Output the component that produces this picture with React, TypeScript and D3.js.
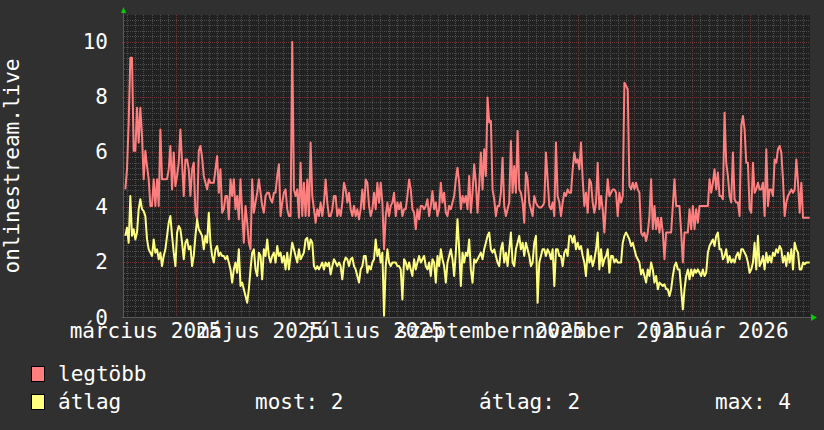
import React from "react";
import * as d3 from "d3";

// ---- data ----
const yTicks = [0, 2, 4, 6, 8, 10];
const monthLabels = [
  { year: 2025, month: 2, text: "március 2025" },
  { year: 2025, month: 4, text: "május 2025" },
  { year: 2025, month: 6, text: "július 2025" },
  { year: 2025, month: 8, text: "szeptember 2025" },
  { year: 2025, month: 10, text: "november 2025" },
  { year: 2026, month: 0, text: "január 2026" },
];

const maxSeries = [
  4.64, 5.37, 7.07, 9.43, 9.43, 6.04, 6.04, 7.61, 6.34, 7.61,
  6.58, 5.01, 6.04, 5.49, 5.01, 4.04, 4.04, 5.01, 4.04, 5.01,
  4.04, 6.82, 5.01, 5.01, 5.01, 5.01, 5.37, 6.22, 4.64, 5.98,
  4.76, 5.13, 5.61, 6.82, 5.61, 4.4, 5.73, 5.73, 5.37, 4.4,
  5.37, 5.61, 3.79, 3.55, 6.04, 6.22, 5.79, 5.13, 4.88, 4.64,
  5.01, 4.88, 4.88, 4.88, 5.37, 5.85, 4.52, 5.37, 3.79, 3.92,
  4.4, 4.4, 3.55, 5.01, 4.4, 5.01, 3.92, 4.4, 3.55, 5.01,
  3.79, 2.7, 4.04, 3.43, 2.7, 2.46, 5.01, 3.79, 4.16, 4.52,
  5.01, 4.52, 4.04, 3.79, 4.4, 4.52, 4.52, 4.28, 4.16, 4.52,
  4.52, 5.13, 5.55, 3.67, 4.16, 4.52, 4.64, 3.92, 3.67, 3.67,
  10.0, 4.64, 4.4,
  4.64, 3.61, 5.61, 3.67, 4.88, 3.67, 5.0, 3.67, 6.34, 4.4,
  3.92, 3.43, 3.92, 3.67, 4.16, 3.67, 4.16, 5.0, 4.16, 3.67,
  3.67, 3.92, 4.4, 4.4, 3.67, 3.92, 3.67, 4.16, 4.88, 4.64,
  4.16, 4.52, 3.92, 3.67, 4.04, 3.67, 3.92, 3.55, 3.92, 4.64,
  3.92, 5.0, 4.88, 4.04, 3.67, 3.92, 4.52, 3.92, 4.88, 4.16,
  4.88, 4.16, 2.46, 3.67, 4.16, 3.67, 4.04, 4.16, 4.52, 3.67,
  4.16, 3.92, 4.16, 3.67, 3.92, 3.92, 4.4, 5.0, 4.64, 3.92,
  3.8, 3.19, 3.92, 3.55, 4.04, 4.04, 3.92, 4.04, 4.28, 3.67,
  4.04, 4.58, 3.92, 4.16, 3.67, 3.92, 4.88, 4.16, 4.52, 3.8,
  3.67, 4.04, 3.92, 4.16, 4.4, 5.0, 5.43, 4.88, 3.92, 4.4,
  4.16, 4.4, 3.92,
  5.13, 3.79, 4.52, 5.55, 4.88, 3.79, 4.76, 5.98, 4.64, 6.1,
  5.13, 7.98, 7.07, 7.13, 4.64, 4.28, 3.67, 4.04, 4.04, 4.52,
  5.79, 4.04, 3.67, 3.92, 4.16, 6.4, 4.52, 5.49, 4.52, 6.76,
  4.64, 4.52, 4.16, 3.43, 5.25, 5.01, 4.16, 3.92, 3.67, 4.4,
  4.16, 4.04, 3.98, 3.98, 4.04, 4.16, 5.98, 5.01, 4.04, 3.92,
  4.16, 3.67, 6.34, 4.4, 4.16, 3.67, 4.16, 4.52, 4.4, 4.64,
  4.52, 4.52, 5.37, 5.98, 5.61, 5.73, 5.37, 6.34, 5.01, 4.04,
  4.52, 3.79, 5.01, 4.88, 4.16, 3.79, 4.16, 5.61, 3.92, 4.4,
  3.92, 3.07, 4.16, 5.01, 4.4, 4.52, 4.64, 4.64, 4.52, 3.67,
  4.52, 4.16, 4.4, 8.52, 8.4, 8.28, 4.76, 4.64, 4.88, 4.64,
  4.88, 4.64, 4.52,
  3.07, 2.95, 3.07, 2.76, 3.07, 3.67, 5.01, 3.19, 4.04, 3.19,
  3.61, 3.07, 3.61, 3.07, 2.1, 3.07, 3.07, 3.07, 3.07, 4.04,
  5.01, 4.04, 4.04, 4.04, 3.07, 1.98, 3.07, 3.07, 3.07, 3.92,
  3.19, 4.04, 3.19, 3.92, 3.43, 4.04, 4.04, 4.04, 4.04, 4.04,
  4.04, 5.01, 4.52, 4.88, 5.37, 4.64, 5.25, 4.4, 4.4, 4.28,
  7.43, 5.61, 5.13, 4.4, 4.16, 5.98, 4.28, 4.16, 4.16, 3.67,
  6.95, 7.31, 6.82, 5.61, 5.61, 3.92, 3.79, 5.61, 4.52, 4.64,
  4.88, 4.64, 4.64, 4.88, 3.67, 6.1, 4.04, 4.64, 4.64, 4.4,
  5.73, 5.61, 6.1, 6.22, 5.98, 5.01, 3.67, 4.16, 4.4, 4.52,
  4.64, 4.52, 4.64, 5.73, 4.88, 3.79, 4.88, 3.61, 3.61, 3.61,
  3.61, 3.61,
];

const avgSeries = [
  2.95, 3.25, 2.7, 4.4, 2.95, 3.19, 2.82, 3.07, 3.92, 4.28,
  3.92, 3.85, 3.67, 2.82, 2.46, 2.34, 2.22, 2.82, 2.34, 2.46,
  2.1, 2.34, 1.85, 2.22, 2.46, 2.95, 3.43, 3.67, 2.95, 2.34,
  1.85, 3.07, 3.31, 3.19, 2.7, 2.1, 2.7, 2.82, 2.46, 2.58,
  1.85, 2.22, 2.95, 3.55, 3.19, 3.07, 2.95, 2.46, 2.95, 2.7,
  3.79, 2.7, 2.22, 1.98, 2.46, 2.58, 2.22, 2.34, 2.22, 2.22,
  2.1, 2.22, 1.98, 1.73, 1.25, 1.73, 1.98, 1.61, 2.46, 1.13,
  1.25, 1.01, 0.76, 0.52, 1.01, 1.73, 2.34, 2.46, 1.73, 1.49,
  2.34, 2.22, 1.37, 2.46, 2.22, 2.82, 2.22, 1.98, 2.22, 2.34,
  1.98, 2.58, 2.22, 2.34, 1.98, 2.22, 1.73, 2.34, 1.73, 2.22,
  2.7, 2.46, 2.22,
  1.98, 2.46, 2.1, 2.22, 2.34, 2.82, 2.88, 2.46, 2.82, 2.7,
  1.85, 1.73, 1.85, 1.73, 1.85, 1.98, 1.73, 1.98, 1.85, 1.98,
  1.55, 1.85, 2.1, 1.98, 1.85, 1.98, 1.85, 1.37, 1.98, 2.16,
  2.1, 1.85, 2.1, 2.16, 1.85, 1.73, 1.49, 1.25, 1.73, 1.85,
  2.22, 2.22, 1.61, 1.85, 1.73, 1.98, 2.1, 2.82, 2.22, 2.46,
  1.98, 2.34, 0.05, 1.85, 2.46, 1.98, 1.85, 1.98, 1.98, 1.98,
  1.85, 1.85, 1.73, 0.64, 2.1, 1.98, 1.73, 1.98, 1.73, 1.49,
  2.1, 1.73, 1.98, 2.22, 1.98, 2.1, 2.22, 1.85, 1.73, 1.98,
  1.49, 2.1, 1.98, 1.25, 2.22, 1.85, 2.46, 2.1, 1.85, 1.25,
  1.98, 2.22, 2.46, 2.1, 1.49, 2.34, 3.55, 2.46, 1.13, 2.34,
  1.98, 2.34, 2.22,
  2.82, 1.73, 1.25, 2.1, 1.98, 2.1, 2.22, 2.34, 2.1, 2.46,
  2.7, 2.95, 3.07, 2.46, 2.34, 2.46, 2.22, 1.98, 1.85, 2.46,
  2.7, 1.98, 2.34, 1.85, 2.46, 3.07, 1.98, 1.85, 2.46, 2.7,
  2.95, 2.46, 2.7, 2.22, 2.7, 2.46, 2.22, 1.85, 1.98, 2.7,
  2.95, 0.52, 1.98, 2.22, 2.46, 2.46, 2.22, 2.46, 2.34, 2.1,
  2.46, 1.13, 2.46, 2.46, 2.22, 2.22, 1.85, 2.34, 2.46, 2.22,
  2.95, 2.95, 2.7, 2.95, 2.46, 2.7, 2.46, 2.58, 2.22, 1.98,
  1.49, 2.46, 1.98, 2.22, 1.85, 2.1, 2.46, 3.07, 1.73, 2.46,
  1.85, 2.1, 2.22, 2.46, 1.61, 2.22, 2.22, 1.98, 2.1, 1.98,
  1.98, 1.98, 2.7, 2.95, 3.07, 2.95, 2.82, 2.58, 2.7, 2.46,
  2.22, 2.1, 1.98,
  1.55, 1.73, 1.49, 1.25, 1.73, 1.49, 1.98, 1.73, 1.25, 1.49,
  1.01, 1.25, 1.19, 1.13, 1.19, 1.01, 1.01, 0.76, 1.01, 1.49,
  1.85, 1.98, 1.73, 1.73, 1.01, 0.28, 1.01, 1.49, 1.73, 1.37,
  1.73, 1.49, 1.73, 1.61, 1.73, 1.61, 1.49, 1.73, 1.49, 1.61,
  2.34, 2.58, 2.7, 2.82, 2.58, 2.95, 3.07, 2.46, 2.46, 2.1,
  2.22, 2.46, 1.98, 2.22, 1.98, 2.1, 1.98, 2.22, 2.34, 2.1,
  2.46, 2.46, 2.34, 2.22, 1.98, 1.61, 1.73, 1.98, 2.7, 1.73,
  2.95, 1.85, 1.98, 2.22, 1.73, 2.34, 1.98, 2.22, 1.98, 2.34,
  2.22, 2.46, 2.34, 2.58, 2.46, 1.98, 2.22, 1.85, 2.34, 1.98,
  2.46, 1.73, 2.7, 2.46, 2.34, 1.73, 1.73, 1.98, 1.92, 1.98,
  1.98, 1.98,
];

const legendStats = { now: "2", avg: "2", max: "4" };

// time range of the graph and of the first / last stored sample
const START = Date.UTC(2025, 2, 4);
const END = Date.UTC(2026, 2, 5);
const FIRST_SAMPLE = Date.UTC(2025, 2, 4, 17);
const LAST_SAMPLE = Date.UTC(2026, 2, 4, 20);

const W = 824;
const H = 430;
const FONT = "'DejaVu Sans Mono', monospace";
const FS = 21;

export default function App() {
  const left = 124, right = 810, top = 15, bottom = 317;
  const x = d3.scaleUtc().domain([START, END]).range([left, right]);
  const y = d3.scaleLinear().domain([0, 10.98]).range([bottom, top]);
  const idx = d3.scaleLinear().domain([0, maxSeries.length - 1]).range([FIRST_SAMPLE, LAST_SAMPLE]);
  const idx2 = d3.scaleLinear().domain([0, avgSeries.length - 1]).range([FIRST_SAMPLE, LAST_SAMPLE]);

  const lineMax = d3.line<number>().x((_, i) => x(idx(i))).y((d) => y(d));
  const lineAvg = d3.line<number>().x((_, i) => x(idx2(i))).y((d) => y(d));

  const minorY = d3.range(0, 11, 0.2).filter((v) => Math.abs(v / 2 - Math.round(v / 2)) > 1e-6);
  const months = d3.utcMonth.range(new Date(START), new Date(END));
  // minor vertical lines: 7 per month
  const minorX: number[] = [];
  const allMonths = d3.utcMonth.range(new Date(Date.UTC(2025, 2, 1)), new Date(Date.UTC(2026, 3, 1)));
  for (let k = 0; k < allMonths.length - 1; k++) {
    const a = +allMonths[k], b = +allMonths[k + 1];
    for (let j = 1; j < 7; j++) {
      const t = a + ((b - a) * j) / 7;
      if (t > START && t < END) minorX.push(t);
    }
  }

  return (
    <svg width={W} height={H} style={{ display: "block", position: "absolute", left: 0, top: 0 }}>
      <rect x={0} y={0} width={W} height={H} fill="#303030" />
      <rect x={left} y={top} width={right - left} height={bottom - top} fill="#212121" />
      {/* minor grid */}
      <g stroke="#4c4c4c" strokeWidth={1} strokeDasharray="1,1" shapeRendering="crispEdges">
        {minorY.map((v) => (
          <line key={"my" + v} x1={left} x2={right} y1={Math.round(y(v)) + 0.5} y2={Math.round(y(v)) + 0.5} />
        ))}
        {minorX.map((t) => (
          <line key={"mx" + t} x1={Math.round(x(t)) + 0.5} x2={Math.round(x(t)) + 0.5} y1={top} y2={bottom + 2} />
        ))}
      </g>
      {/* major grid */}
      <g stroke="#6e3838" strokeWidth={1} strokeDasharray="1,1" shapeRendering="crispEdges">
        {yTicks.map((v) => (
          <line key={"My" + v} x1={left - 2} x2={right} y1={Math.round(y(v)) + 0.5} y2={Math.round(y(v)) + 0.5} />
        ))}
        {months.map((m) => (
          <line key={"Mx" + +m} x1={Math.round(x(m)) + 0.5} x2={Math.round(x(m)) + 0.5} y1={top} y2={bottom + 2} />
        ))}
      </g>
      {/* axes */}
      <g stroke="#5a5a5a" strokeWidth={1} shapeRendering="crispEdges">
        <line x1={left - 0.5} x2={left - 0.5} y1={top - 3} y2={bottom + 1} />
        <line x1={left - 2} x2={right + 2} y1={bottom + 0.5} y2={bottom + 0.5} />
      </g>
      <path d={`M${left - 3},${top - 2} L${left + 2},${top - 2} L${left - 0.5},${top - 8} Z`} fill="#00cc00" />
      <path d={`M${right + 1},${bottom - 3} L${right + 1},${bottom + 4} L${right + 7},${bottom + 0.5} Z`} fill="#00cc00" />
      {/* data lines */}
      <path d={lineMax(maxSeries) || ""} fill="none" stroke="#ff7f7f" strokeWidth={2} strokeLinejoin="round" />
      <path d={lineAvg(avgSeries) || ""} fill="none" stroke="#ffff7f" strokeWidth={2} strokeLinejoin="round" />
      {/* y tick labels */}
      <g fill="#ffffff" fontFamily={FONT} fontSize={FS} textAnchor="end">
        {yTicks.map((v) => (
          <text key={"yl" + v} x={108} y={y(v) + 7.5}>{v}</text>
        ))}
      </g>
      {/* x labels centred mid-month */}
      <g fill="#ffffff" fontFamily={FONT} fontSize={FS} textAnchor="middle">
        {monthLabels.map((l) => (
          <text key={l.text} x={x(Date.UTC(l.year, l.month, 15, 12))} y={338}>{l.text}</text>
        ))}
      </g>
      {/* vertical axis title */}
      <text transform={`translate(19,${(top + bottom) / 2}) rotate(-90)`} fill="#ffffff" fontFamily={FONT} fontSize={FS} textAnchor="middle">
        onlinestream.live
      </text>
      {/* legend */}
      <g fontFamily={FONT} fontSize={FS} fill="#ffffff">
        <rect x={31.5} y={366.5} width={13} height={15} fill="#ff7f7f" stroke="#000" />
        <text x={58} y={381}>legtöbb</text>
        <rect x={31.5} y={394.5} width={13} height={15} fill="#ffff7f" stroke="#000" />
        <text x={58} y={409}>átlag</text>
        <text x={255} y={409}>{`most: ${legendStats.now}`}</text>
        <text x={479} y={409}>{`átlag: ${legendStats.avg}`}</text>
        <text x={715} y={409}>{`max: ${legendStats.max}`}</text>
      </g>
    </svg>
  );
}
